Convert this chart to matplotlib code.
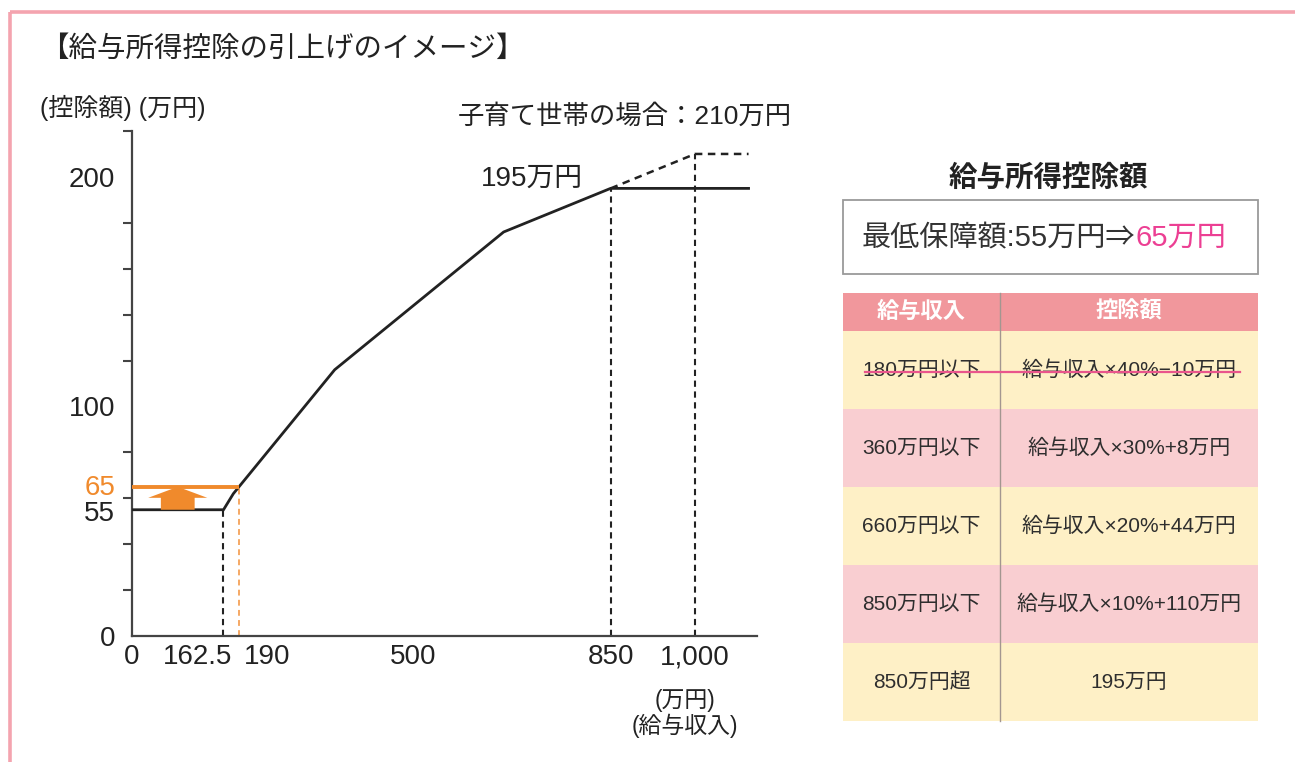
import matplotlib
matplotlib.use('Agg')
import matplotlib.pyplot as plt
from matplotlib.patches import Rectangle
import matplotlib.transforms as mtransforms

plt.rcParams['font.family'] = ['Liberation Sans', 'Noto Sans CJK JP', 'DejaVu Sans']

# ---------------- data ----------------
income_old = [0, 162.5, 180, 360, 660, 850, 1095]
deduction_old = [55, 55, 62, 116, 176, 195, 195]
income_child = [850, 1000, 1095]
deduction_child = [195, 210, 210]
new_min_income = [0, 190]
new_min_deduction = [65, 65]
old_min = 55
new_min = 65
threshold_old = 162.5
threshold_new = 190
cap_income = 850
cap = 195
child_cap_income = 1000
child_cap = 210

xtick_vals = [0, 162.5, 190, 500, 850, 1000]
xtick_labels = ['0', '162.5', '190', '500', '850', '1,000']
ytick_vals = [0, 55, 65, 100, 200]
ytick_labels = ['0', '55', '65', '100', '200']
yminor_vals = list(range(0, 221, 20))

table_header = ['給与収入', '控除額']
table_income = ['180万円以下', '360万円以下', '660万円以下', '850万円以下', '850万円超']
table_formula = ['給与収入×40%−10万円', '給与収入×30%+8万円', '給与収入×20%+44万円',
                 '給与収入×10%+110万円', '195万円']
struck_rows = [0]

# ---------------- styles ----------------
W, H = 1295, 762
orange = '#F08A2C'
orange_light = '#F5A864'
dark = '#222222'
pink_border = '#F4A4AF'
header_col = '#F1979C'
yellow_row = '#FEF0C6'
pink_row = '#F9CED1'
magenta = '#EC3F93'

fig = plt.figure(figsize=(W / 100, H / 100), dpi=100)
fig.patch.set_facecolor('white')

# overlay axes in pixel coordinates (border, right panel)
ov = fig.add_axes([0, 0, 1, 1], zorder=0)
ov.set_xlim(0, W)
ov.set_ylim(H, 0)
ov.axis('off')

ov.add_patch(Rectangle((10, 12), 1400, 800, fill=False, ec=pink_border, lw=2.6))

# ---------------- main chart ----------------
ax = fig.add_axes([132 / W, 1 - 636 / H, (757 - 132) / W, (636 - 131) / H], zorder=2)
ax.patch.set_visible(False)
ax.set_xlim(0, 1110)
ax.set_ylim(0, 220)
for s in ['top', 'right']:
    ax.spines[s].set_visible(False)
for s in ['left', 'bottom']:
    ax.spines[s].set_linewidth(1.6)
    ax.spines[s].set_color('#444444')

dash = (0, (3, 2.2))
ax.plot(income_old, deduction_old, color=dark, lw=2.0, solid_joinstyle='miter', zorder=3)
ax.plot(income_child, deduction_child, color=dark, lw=1.8, ls=dash, zorder=3)
ax.plot(new_min_income, new_min_deduction, color=orange, lw=2.8, zorder=4, solid_capstyle='butt')

ax.plot([threshold_old, threshold_old], [0, old_min], color=dark, lw=1.5, ls=dash)
ax.plot([threshold_new, threshold_new], [0, new_min], color=orange_light, lw=1.4, ls=dash)
ax.plot([cap_income, cap_income], [0, cap], color=dark, lw=1.5, ls=dash)
ax.plot([child_cap_income, child_cap_income], [0, child_cap], color=dark, lw=1.5, ls=dash)

ax.arrow(threshold_old / 2, old_min, 0, new_min - old_min, width=60, head_width=105,
         head_length=4.8, length_includes_head=True, color=orange, lw=0, zorder=3)

ax.set_yticks(ytick_vals, ytick_labels)
ax.set_yticks(yminor_vals, minor=True)
ax.tick_params(axis='y', which='major', length=0, pad=12, labelsize=20, labelcolor=dark)
ax.tick_params(axis='y', which='minor', length=6.5, width=1.5, color='#444444')
ylbls = ax.get_yticklabels()
ylbls[ytick_labels.index('65')].set_color(orange)
for lbl, dy in zip(ylbls, [0, -1, 2, 0, 0]):
    if dy:
        lbl.set_transform(lbl.get_transform() +
                          mtransforms.ScaledTranslation(0, dy / 100, fig.dpi_scale_trans))

ax.set_xticks(xtick_vals, xtick_labels)
ax.tick_params(axis='x', length=0, pad=6, labelsize=20, labelcolor=dark)
x_offsets = {'162.5': -26, '190': 28}
for lbl in ax.get_xticklabels():
    dx = x_offsets.get(lbl.get_text(), 0)
    if dx:
        lbl.set_transform(lbl.get_transform() +
                          mtransforms.ScaledTranslation(dx / 100, 0, fig.dpi_scale_trans))

ax.annotate(f'{cap}万円', xy=(cap_income, cap), xytext=(-28, 10), textcoords='offset pixels',
            ha='right', va='center', fontsize=20, color=dark)
ax.annotate(f'子育て世帯の場合：{child_cap}万円', xy=(child_cap_income, child_cap),
            xytext=(97, 38), textcoords='offset pixels', ha='right', va='center',
            fontsize=19, color=dark, annotation_clip=False)

# titles / axis labels
fig.text(40 / W, 1 - 50 / H, '【給与所得控除の引上げのイメージ】', fontsize=20.5,
         ha='left', va='center', color=dark)
fig.text(40 / W, 1 - 108 / H, '(控除額) (万円)', fontsize=18, ha='left', va='center', color=dark)
ov.text(685, 700, '(万円)', fontsize=16.5, ha='center', va='center', color=dark)
ov.text(685, 726, '(給与収入)', fontsize=16.5, ha='center', va='center', color=dark)

# ---------------- right panel ----------------
ov.text(1048, 178, '給与所得控除額', fontsize=20.5, fontweight='bold', ha='center',
        va='center', color=dark)
ov.add_patch(Rectangle((843, 200), 415, 74, fc='white', ec='#9a9a9a', lw=1.3))
t1 = ov.text(862, 238, f'最低保障額:{old_min}万円⇒', fontsize=21, ha='left', va='center',
             color='#333333')
ov.annotate(f'{new_min}万円', xy=(1, 0), xycoords=t1, ha='left', va='bottom',
            fontsize=21, color=magenta)

tx0, tx1, tdiv = 843, 1258, 1000
htop, hh, rh = 293, 38, 78
ov.add_patch(Rectangle((tx0, htop), tx1 - tx0, hh, fc=header_col, ec='none'))
ov.text((tx0 + tdiv) / 2, htop + hh / 2, table_header[0], fontsize=16, fontweight='bold',
        color='white', ha='center', va='center')
ov.text((tdiv + tx1) / 2, htop + hh / 2, table_header[1], fontsize=16, fontweight='bold',
        color='white', ha='center', va='center')
for i, (inc, frm) in enumerate(zip(table_income, table_formula)):
    y0 = htop + hh + i * rh
    ov.add_patch(Rectangle((tx0, y0), tx1 - tx0, rh,
                           fc=yellow_row if i % 2 == 0 else pink_row, ec='none'))
    ov.text((tx0 + tdiv) / 2, y0 + rh / 2, inc, fontsize=15, color='#2e2e2e',
            ha='center', va='center')
    ov.text((tdiv + tx1) / 2, y0 + rh / 2, frm, fontsize=15, color='#2e2e2e',
            ha='center', va='center')
    if i in struck_rows:
        ov.plot([865, 1240], [y0 + rh / 2 + 2, y0 + rh / 2 + 2], color='#E9558C', lw=1.6, zorder=5)
ov.plot([tdiv, tdiv], [htop, htop + hh + len(table_income) * rh], color='#a39690', lw=1.0)

fig.savefig('out.png', dpi=100, facecolor='white')
